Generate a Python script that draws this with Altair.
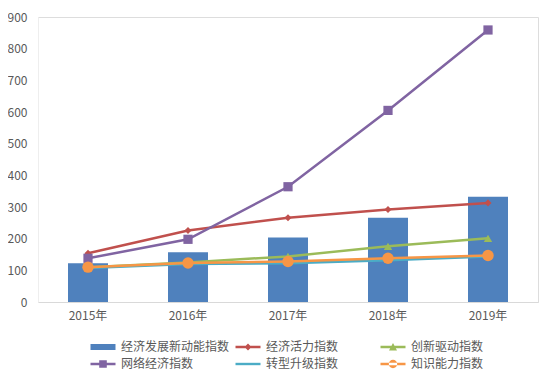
import altair as alt
import pandas as pd

years = ["2015年", "2016年", "2017年", "2018年", "2019年"]
bar_name = "经济发展新动能指数"
bar_values = [122, 157, 204, 266, 332]

line_names = ["经济活力指数", "创新驱动指数", "网络经济指数", "转型升级指数", "知识能力指数"]
vitality = [154, 226, 266, 292, 313]
innovation = [110, 125, 144, 176, 201]
network = [138, 198, 364, 605, 859]
transform = [107, 120, 122, 132, 144]
knowledge = [110, 123, 128, 138, 147]

series_order = [bar_name] + line_names
colors = ["#4F81BD", "#C0504D", "#9BBB59", "#8064A2", "#4BACC6", "#F79646"]

bar_df = pd.DataFrame({"year": years, "value": bar_values, "series": bar_name})
rows = []
for name, vals in zip(line_names, [vitality, innovation, network, transform, knowledge]):
    for y, v in zip(years, vals):
        rows.append({"year": y, "value": v, "series": name})
line_df = pd.DataFrame(rows)

FONT = "Noto Sans CJK SC"

# legend symbol paths (unit = half of sqrt(symbolSize))
bar_path = "M-1.25,-0.3H1.25V0.3H-1.25Z"
line_path = "M-1.25,-0.12H1.25V0.12H-1.25Z"
diamond_path = line_path + " M-0.35,0L0,-0.35L0.35,0L0,0.35Z"
square_path = line_path + " M-0.38,-0.38H0.38V0.38H-0.38Z"
tri_path = line_path + " M-0.4,0.35L0,-0.4L0.4,0.35Z"
circ_path = line_path + " M-0.42,0A0.42,0.42 0 1,0 0.42,0A0.42,0.42 0 1,0 -0.42,0Z"
shape_expr = (
    f"datum.value === '{bar_name}' ? '{bar_path}' : "
    f"datum.value === '经济活力指数' ? '{diamond_path}' : "
    f"datum.value === '创新驱动指数' ? '{tri_path}' : "
    f"datum.value === '网络经济指数' ? '{square_path}' : "
    f"datum.value === '知识能力指数' ? '{circ_path}' : '{line_path}'"
)

color_scale = alt.Scale(domain=series_order, range=colors)
legend = alt.Legend(
    title=None,
    orient="none",
    legendX=55,
    legendY=320,
    direction="horizontal",
    columns=3,
    gridAlign="all",
    columnPadding=5,
    rowPadding=1,
    symbolSize=400,
    symbolType=alt.ExprRef(expr=shape_expr),
    symbolFillColor=alt.ExprRef(expr="scale('color', datum.value)"),
    symbolStrokeWidth=0,
    symbolOpacity=1,
    labelFont=FONT,
    labelFontSize=12,
    labelColor="#595959",
    labelOffset=8,
    labelLimit=200,
)

x_enc = alt.X(
    "year:N",
    sort=years,
    scale=alt.Scale(domain=years, paddingInner=0.6, paddingOuter=0.3),
    axis=alt.Axis(
        title=None, labelAngle=0, ticks=False, domainColor="#d9d9d9",
        labelFont=FONT, labelFontSize=12, labelColor="#595959", labelPadding=8,
    ),
)
y_enc = alt.Y(
    "value:Q",
    scale=alt.Scale(domain=[0, 900], nice=False),
    axis=alt.Axis(
        title=None, values=list(range(0, 1000, 100)), ticks=False, grid=False,
        domainColor="#eeeeee", labelFont=FONT, labelFontSize=12,
        labelColor="#595959", labelPadding=11,
    ),
)

bars = alt.Chart(bar_df).mark_bar(size=40).encode(
    x=x_enc, y=y_enc,
    color=alt.Color("series:N", scale=color_scale, legend=legend),
)

lines = alt.Chart(line_df).mark_line(strokeWidth=2.5).encode(
    x=x_enc, y=y_enc,
    color=alt.Color("series:N", scale=color_scale, legend=legend),
)

marker_specs = [
    ("经济活力指数", "diamond", 50),
    ("网络经济指数", "square", 85),
    ("创新驱动指数", "triangle-up", 70),
    ("知识能力指数", "circle", 130),
]
markers = []
for name, shp, sz in marker_specs:
    markers.append(
        alt.Chart(line_df).transform_filter(alt.datum.series == name)
        .mark_point(shape=shp, size=sz, filled=True, opacity=1)
        .encode(
            x=x_enc, y=y_enc,
            color=alt.Color("series:N", scale=color_scale, legend=legend),
        )
    )

chart = alt.layer(bars, lines, *markers).properties(
    width=500,
    height=285,
    autosize=alt.AutoSizeParams(type="none"),
    padding={"left": 30, "top": 9, "right": 8, "bottom": 76},
).configure_view(stroke=None).configure(background="white")

chart.save("out.html", embed_options={"renderer": "svg", "actions": False})
